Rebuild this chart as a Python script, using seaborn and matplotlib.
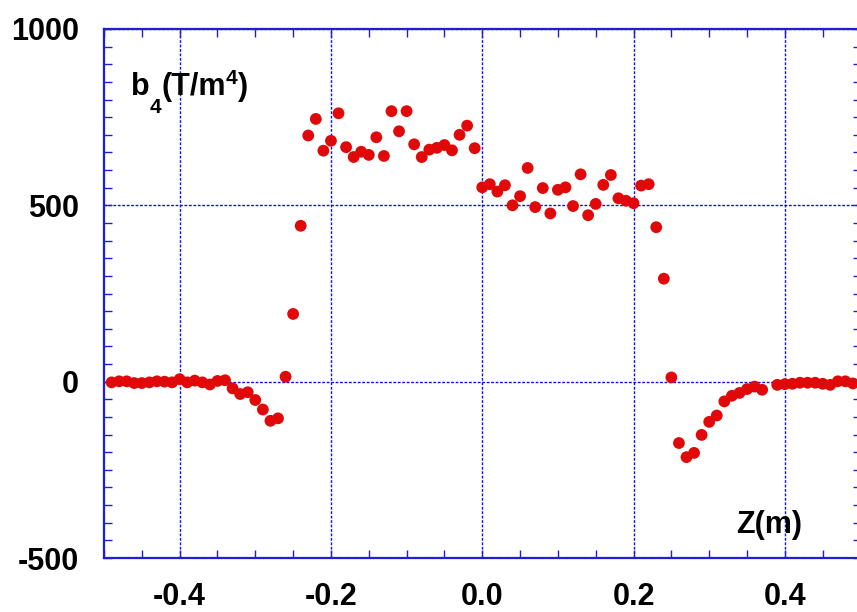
import numpy as np
import pandas as pd
import matplotlib
matplotlib.use("Agg")
import matplotlib.pyplot as plt
from matplotlib.ticker import FixedLocator, MultipleLocator, FixedFormatter
from matplotlib.transforms import offset_copy
import seaborn as sns

# Longitudinal profile of the b4 multipole coefficient
z_left = [-0.49, -0.48, -0.47, -0.46, -0.45, -0.44, -0.43, -0.42, -0.41, -0.40,
          -0.39, -0.38, -0.37, -0.36, -0.35, -0.34, -0.33, -0.32, -0.31, -0.30,
          -0.29, -0.28, -0.27, -0.26, -0.25, -0.24]
b4_left = [-2, 1, 1, -4, -4, -2, 1, 0, -2, 7,
           -2, 3, -2, -8, 2, 4, -19, -35, -30, -52,
           -79, -111, -104, 14, 192, 442]

z_mid = [-0.23, -0.22, -0.21, -0.20, -0.19, -0.18, -0.17, -0.16, -0.15, -0.14,
         -0.13, -0.12, -0.11, -0.10, -0.09, -0.08, -0.07, -0.06, -0.05, -0.04,
         -0.03, -0.02, -0.01, 0.00, 0.01, 0.02, 0.03, 0.04, 0.05, 0.06,
         0.07, 0.08, 0.09, 0.10, 0.11, 0.12, 0.13, 0.14, 0.15, 0.16,
         0.17, 0.18, 0.19, 0.20, 0.21, 0.22]
b4_mid = [698, 745, 655, 683, 761, 665, 637, 652, 643, 693,
          640, 767, 710, 767, 673, 637, 658, 663, 671, 656,
          700, 726, 662, 551, 560, 539, 557, 500, 526, 606,
          495, 549, 477, 544, 551, 498, 588, 472, 504, 558,
          586, 520, 513, 506, 556, 560]

z_right = [0.23, 0.24, 0.25, 0.26, 0.27, 0.28, 0.29, 0.30, 0.31, 0.32,
           0.33, 0.34, 0.35, 0.36, 0.37, 0.39, 0.40, 0.41, 0.42, 0.43,
           0.44, 0.45, 0.46, 0.47, 0.48, 0.49]
b4_right = [438, 292, 12, -174, -214, -202, -151, -114, -96, -56,
            -40, -32, -21, -14, -23, -9, -7, -6, -3, -3,
            -3, -6, -9, 1, 1, -5]

x_ticks = [-0.4, -0.2, 0.0, 0.2, 0.4]
x_tick_labels = ["-0.4", "-0.2", "0.0", "0.2", "0.4"]
y_ticks = [-500, 0, 500, 1000]
y_tick_labels = ["-500", "0", "500", "1000"]

df = pd.DataFrame({
    "z": z_left + z_mid + z_right,
    "b4": b4_left + b4_mid + b4_right,
})

sns.set_theme(style="white")
plt.rcParams["font.family"] = ["Liberation Sans", "DejaVu Sans"]
plt.rcParams["axes.unicode_minus"] = False

fig = plt.figure(figsize=(8.57, 6.12), dpi=100)
ax = fig.add_axes([104 / 857, 1 - 558 / 612, 756.5 / 857, 529 / 612])

frame_blue = "#1f1fd0"
grid_blue = "#1010e0"

sns.scatterplot(data=df, x="z", y="b4", ax=ax, color="#e00808",
                s=72, edgecolor="none", linewidth=0, zorder=3, legend=False)

ax.set_xlim(-0.5, 0.5)
ax.set_ylim(-500, 1000)

ax.xaxis.set_major_locator(FixedLocator(x_ticks))
ax.xaxis.set_major_formatter(FixedFormatter(x_tick_labels))
ax.xaxis.set_minor_locator(MultipleLocator(0.05))
ax.yaxis.set_major_locator(FixedLocator(y_ticks))
ax.yaxis.set_major_formatter(FixedFormatter(y_tick_labels))
ax.yaxis.set_minor_locator(MultipleLocator(50))

ax.tick_params(which="both", direction="in", top=True, right=True,
               bottom=True, left=True, color=frame_blue, width=1.0)
ax.tick_params(which="major", length=6)
ax.tick_params(which="minor", length=6)
ax.tick_params(axis="y", which="major", pad=18, labelsize=22)
ax.tick_params(axis="x", which="major", pad=17, labelsize=22)
for lab in ax.get_xticklabels() + ax.get_yticklabels():
    lab.set_fontweight("bold")
    lab.set_color("black")

ax.grid(True, which="major", color=grid_blue, linestyle=(0, (2.0, 1.2)),
        linewidth=1.0)
ax.set_axisbelow(True)

for sp in ax.spines.values():
    sp.set_color(frame_blue)
    sp.set_linewidth(1.6)
    sp.set_linestyle((0, (3, 0.8)))

ax.set_xlabel("")
ax.set_ylabel("")

# Quantity label built from pieces: base text, subscript and superscript
pieces = [("b", 22, 0), ("4", 15, -13), ("(T/m", 22, 0), ("4", 15, 8), (")", 22, 0)]
fig.canvas.draw()
renderer = fig.canvas.get_renderer()
x_px = 0.0
for txt, size, dy in pieces:
    tr = offset_copy(ax.transAxes, fig=fig, x=x_px * 72 / fig.dpi, y=dy, units="points")
    t = ax.text(0.036, 0.875, txt, transform=tr, fontsize=size,
                fontweight="bold", ha="left", va="baseline", color="black")
    bb = t.get_window_extent(renderer=renderer)
    x_px += bb.width

ax.text(0.836, 0.047, "Z(m)", transform=ax.transAxes, fontsize=22,
        fontweight="bold", ha="left", va="baseline", color="black")

fig.savefig("out.png", dpi=100)
